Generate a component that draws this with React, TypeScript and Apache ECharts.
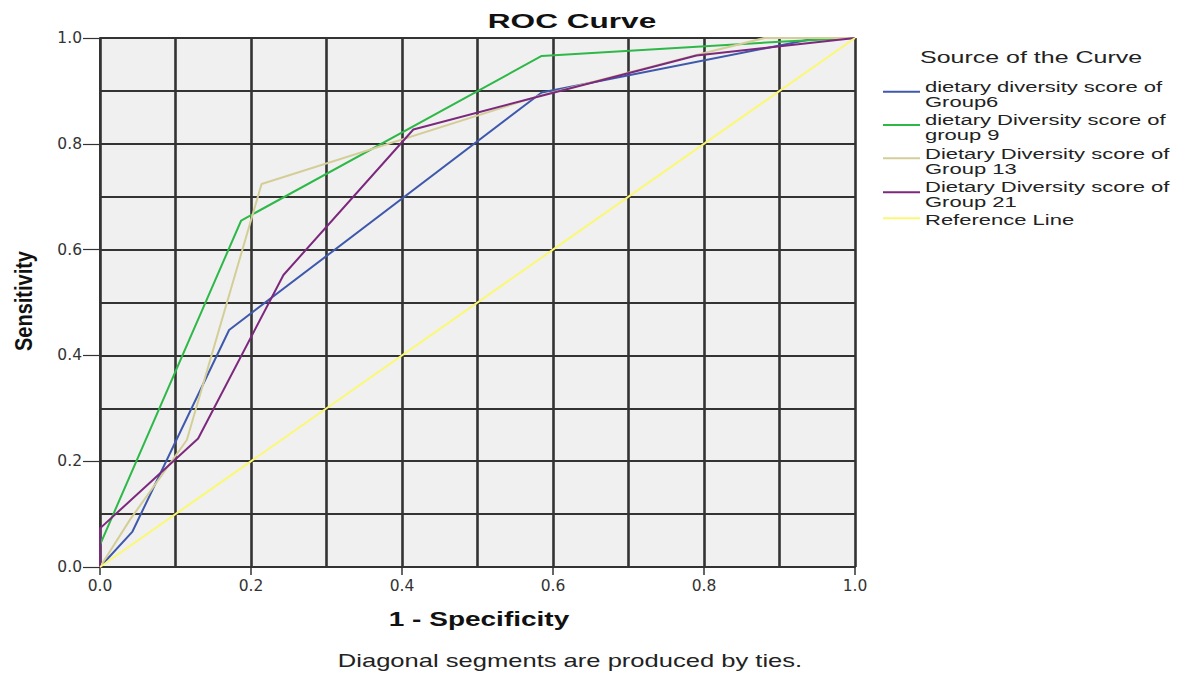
import React, { useEffect, useRef } from "react";
import * as echarts from "echarts";

// ROC curve points (1 - Specificity, Sensitivity)
const fprGroup6 = [0, 0.043, 0.171, 0.585, 0.95, 1];
const tprGroup6 = [0, 0.067, 0.448, 0.897, 1.0, 1];

const fprGroup9 = [0, 0, 0.187, 0.585, 0.9, 1];
const tprGroup9 = [0, 0.042, 0.655, 0.966, 0.993, 1];

const fprGroup13 = [0, 0.04, 0.115, 0.214, 0.585, 0.79, 0.88, 1];
const tprGroup13 = [0, 0.09, 0.24, 0.724, 0.892, 0.968, 1.0, 1];

const fprGroup21 = [0, 0, 0.13, 0.243, 0.415, 0.585, 0.79, 1];
const tprGroup21 = [0, 0.073, 0.243, 0.552, 0.827, 0.891, 0.967, 1];

const fprReference = [0, 1];
const tprReference = [0, 1];

const seriesNames = [
  "dietary diversity score of\nGroup6",
  "dietary Diversity score of\ngroup 9",
  "Dietary Diversity score of\nGroup 13",
  "Dietary Diversity score of\nGroup 21",
  "Reference Line",
];
const seriesColors = ["#3E58AC", "#2EB848", "#D3CE97", "#7C287D", "#FBF873"];
const fprList = [fprGroup6, fprGroup9, fprGroup13, fprGroup21, fprReference];
const tprList = [tprGroup6, tprGroup9, tprGroup13, tprGroup21, tprReference];

const chartTitle = "ROC Curve";
const xAxisTitle = "1 - Specificity";
const yAxisTitle = "Sensitivity";
const legendTitle = "Source of the Curve";
const footnote = "Diagonal segments are produced by ties.";

export default function App() {
  const ref = useRef<HTMLDivElement>(null);
  useEffect(() => {
    document.body.style.margin = "0";
    const chart = echarts.init(ref.current as HTMLDivElement, null, { renderer: "svg" });
    const gridColor = "#333333";
    const legendY = [91.7, 125, 158.3, 192.3, 218.3];
    const legendTextY = [94.2, 127.2, 160.8, 194.2, 220];
    const legendGraphics: any[] = [];
    seriesNames.forEach((name, i) => {
      legendGraphics.push({
        type: "line",
        silent: true,
        shape: { x1: 883, y1: legendY[i], x2: 920, y2: legendY[i] },
        style: { stroke: seriesColors[i], lineWidth: 2 },
      });
      legendGraphics.push({
        type: "text",
        silent: true,
        x: 925,
        y: legendTextY[i],
        scaleX: 1.42,
        style: {
          text: name,
          font: '15.5px "Liberation Sans", Arial, sans-serif',
          lineHeight: 15,
          fill: "#222",
          align: "left",
          verticalAlign: "middle",
        },
      });
    });
    const option: any = {
      animation: false,
      backgroundColor: "#ffffff",
      grid: {
        left: 100,
        top: 38,
        width: 755,
        height: 529,
        show: true,
        backgroundColor: "#F0F0F0",
        borderWidth: 0,
      },
      xAxis: {
        type: "value",
        min: 0,
        max: 1,
        interval: 0.2,
        axisLine: { show: true, onZero: false, lineStyle: { color: gridColor, width: 2 } },
        axisTick: { show: true, length: 8, lineStyle: { color: gridColor, width: 1.5 } },
        minorTick: { show: false, splitNumber: 2 },
        axisLabel: {
          margin: 11,
          color: "#333",
          fontSize: 15.5,
          fontFamily: '"DejaVu Sans", sans-serif',
          formatter: (v: number) => v.toFixed(1),
        },
        splitLine: { show: true, lineStyle: { color: gridColor, width: 2.6 } },
        minorSplitLine: { show: true, lineStyle: { color: gridColor, width: 2.6 } },
      },
      yAxis: {
        type: "value",
        min: 0,
        max: 1,
        interval: 0.2,
        axisLine: { show: true, onZero: false, lineStyle: { color: gridColor, width: 2 } },
        axisTick: { show: true, length: 17, lineStyle: { color: gridColor, width: 1.2 } },
        minorTick: { show: false, splitNumber: 2 },
        axisLabel: {
          margin: 18,
          color: "#333",
          fontSize: 15.5,
          fontFamily: '"DejaVu Sans", sans-serif',
          formatter: (v: number) => v.toFixed(1),
        },
        splitLine: { show: true, lineStyle: { color: gridColor, width: 2 } },
        minorSplitLine: { show: true, lineStyle: { color: gridColor, width: 2 } },
      },
      series: seriesNames.map((name, i) => ({
        type: "line",
        name,
        data: fprList[i].map((x, j) => [x, tprList[i][j]]),
        symbol: "none",
        showSymbol: false,
        silent: true,
        lineStyle: { color: seriesColors[i], width: 2 },
        itemStyle: { color: seriesColors[i] },
        z: 3 + i,
      })),
      graphic: [
        {
          type: "text",
          silent: true,
          x: 572,
          y: 21,
          scaleX: 1.62,
          style: {
            text: chartTitle,
            font: 'bold 19.5px "Liberation Sans", Arial, sans-serif',
            fill: "#111",
            align: "center",
            verticalAlign: "middle",
          },
        },
        {
          type: "text",
          silent: true,
          x: 479,
          y: 619,
          scaleX: 1.4,
          style: {
            text: xAxisTitle,
            font: 'bold 20px "Liberation Sans", Arial, sans-serif',
            fill: "#111",
            align: "center",
            verticalAlign: "middle",
          },
        },
        {
          type: "text",
          silent: true,
          x: 24,
          y: 301,
          rotation: Math.PI / 2,
          scaleY: 1.2,
          style: {
            text: yAxisTitle,
            font: 'bold 20px "Liberation Sans", Arial, sans-serif',
            fill: "#111",
            align: "center",
            verticalAlign: "middle",
          },
        },
        {
          type: "text",
          silent: true,
          x: 570,
          y: 661,
          scaleX: 1.42,
          style: {
            text: footnote,
            font: '18px "Liberation Sans", Arial, sans-serif',
            fill: "#222",
            align: "center",
            verticalAlign: "middle",
          },
        },
        {
          type: "text",
          silent: true,
          x: 920,
          y: 57.5,
          scaleX: 1.47,
          style: {
            text: legendTitle,
            font: '17px "Liberation Sans", Arial, sans-serif',
            fill: "#222",
            align: "left",
            verticalAlign: "middle",
          },
        },
        ...legendGraphics,
      ],
    };
    chart.setOption(option);
    return () => chart.dispose();
  }, []);
  return <div ref={ref} style={{ width: 1177, height: 673 }} />;
}
